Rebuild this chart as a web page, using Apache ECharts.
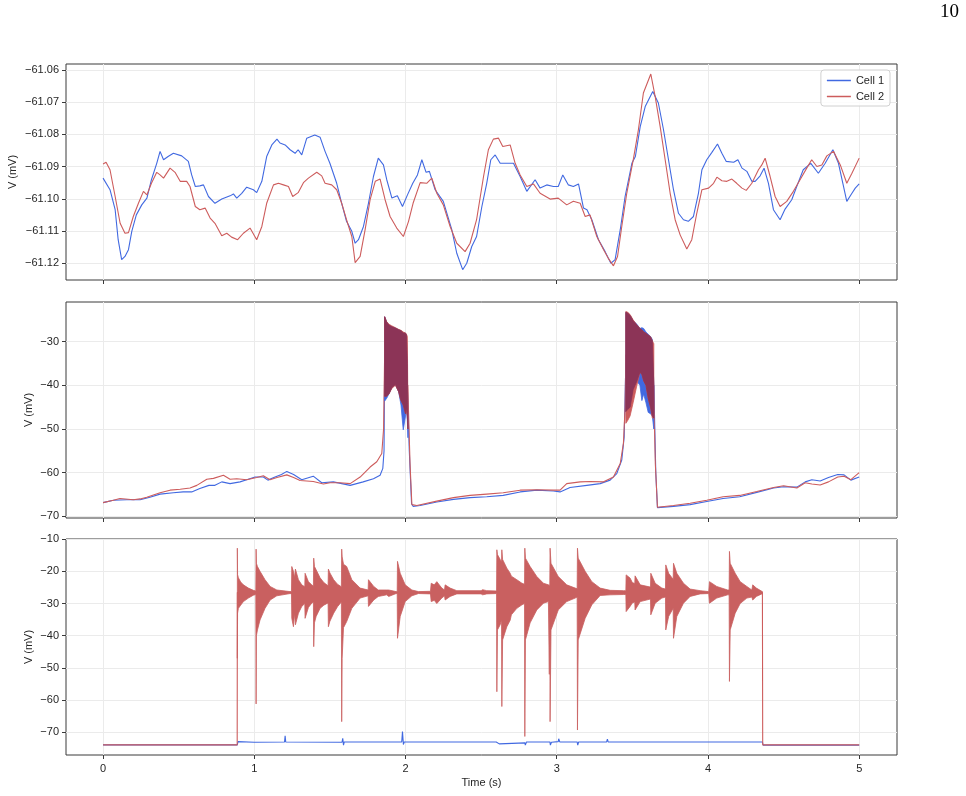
<!DOCTYPE html>
<html>
<head>
<meta charset="utf-8">
<script src="https://cdn.jsdelivr.net/npm/echarts@6/dist/echarts.min.js"></script>
<style>
  html, body { margin: 0; padding: 0; background: #fff; }
  #main { width: 966px; height: 796px; }
</style>
</head>
<body>
<div id="main"></div>
<script>
  // tick values
  const xTicks = [0, 1, 2, 3, 4, 5]
  const yTicks1 = [-61.12, -61.11, -61.10, -61.09, -61.08, -61.07, -61.06]
  const yTicks2 = [-70, -60, -50, -40, -30]
  const yTicks3 = [-70, -60, -50, -40, -30, -20, -10]

  // panel 1 : [time (s), V (mV)]
  const cell1Top = [[0,-61.0936],[0.046,-61.0972],[0.08,-61.1034],[0.10,-61.1127],[0.123,-61.1189],[0.145,-61.1179],[0.168,-61.1158],[0.19,-61.1101],[0.22,-61.1050],[0.256,-61.1019],[0.29,-61.0998],[0.32,-61.0941],[0.355,-61.0890],[0.377,-61.0853],[0.40,-61.0879],[0.43,-61.0869],[0.465,-61.0859],[0.52,-61.0867],[0.564,-61.0884],[0.586,-61.0926],[0.61,-61.0962],[0.64,-61.0960],[0.664,-61.0957],[0.697,-61.0993],[0.74,-61.1014],[0.785,-61.1001],[0.84,-61.0991],[0.862,-61.0985],[0.884,-61.0998],[0.917,-61.0983],[0.95,-61.0964],[0.994,-61.0972],[1.016,-61.0981],[1.05,-61.0946],[1.082,-61.0869],[1.116,-61.0833],[1.15,-61.0815],[1.17,-61.0827],[1.204,-61.0833],[1.237,-61.0848],[1.27,-61.0859],[1.29,-61.0848],[1.314,-61.0864],[1.347,-61.0812],[1.40,-61.0802],[1.435,-61.0809],[1.468,-61.0853],[1.50,-61.0890],[1.545,-61.0952],[1.578,-61.1014],[1.61,-61.1070],[1.645,-61.1101],[1.667,-61.1138],[1.689,-61.1127],[1.722,-61.1086],[1.755,-61.1014],[1.788,-61.0931],[1.82,-61.0874],[1.854,-61.0895],[1.876,-61.0941],[1.91,-61.0998],[1.946,-61.0991],[1.98,-61.1024],[2.013,-61.0988],[2.048,-61.0952],[2.079,-61.0926],[2.108,-61.0879],[2.136,-61.0918],[2.158,-61.0915],[2.196,-61.0972],[2.25,-61.1008],[2.306,-61.1096],[2.339,-61.1169],[2.378,-61.1220],[2.405,-61.1200],[2.438,-61.1148],[2.47,-61.1117],[2.505,-61.1024],[2.537,-61.0952],[2.564,-61.0879],[2.593,-61.0864],[2.626,-61.0890],[2.67,-61.0890],[2.714,-61.0890],[2.758,-61.0931],[2.802,-61.0977],[2.857,-61.0941],[2.89,-61.0967],[2.934,-61.0957],[2.978,-61.0962],[3.01,-61.0962],[3.04,-61.0926],[3.077,-61.0957],[3.11,-61.0962],[3.144,-61.0954],[3.177,-61.1029],[3.2,-61.1034],[3.232,-61.1065],[3.276,-61.1127],[3.32,-61.1164],[3.358,-61.1200],[3.386,-61.1189],[3.42,-61.1096],[3.452,-61.0993],[3.497,-61.0890],[3.52,-61.0869],[3.552,-61.0776],[3.585,-61.0714],[3.635,-61.0667],[3.672,-61.0703],[3.706,-61.0786],[3.739,-61.0879],[3.772,-61.0972],[3.805,-61.1045],[3.838,-61.1065],[3.87,-61.1070],[3.904,-61.1055],[3.937,-61.0983],[3.96,-61.0910],[3.992,-61.0879],[4.026,-61.0856],[4.063,-61.0830],[4.092,-61.0859],[4.12,-61.0884],[4.17,-61.0887],[4.198,-61.0879],[4.225,-61.0905],[4.257,-61.0915],[4.29,-61.0946],[4.312,-61.0946],[4.345,-61.0929],[4.371,-61.0905],[4.4,-61.0952],[4.433,-61.1034],[4.477,-61.1065],[4.51,-61.1032],[4.554,-61.1003],[4.587,-61.0962],[4.63,-61.0910],[4.68,-61.0890],[4.73,-61.0921],[4.775,-61.0890],[4.826,-61.0848],[4.863,-61.0890],[4.892,-61.0952],[4.918,-61.1008],[4.952,-61.0983],[4.974,-61.0967],[5.0,-61.0954]]
  const cell2Top = [[0,-61.0892],[0.02,-61.0887],[0.046,-61.0910],[0.08,-61.0993],[0.113,-61.1076],[0.145,-61.1107],[0.168,-61.1105],[0.2,-61.1055],[0.234,-61.1014],[0.267,-61.0977],[0.29,-61.0988],[0.32,-61.0952],[0.355,-61.0918],[0.377,-61.0926],[0.40,-61.0936],[0.443,-61.0905],[0.476,-61.0918],[0.51,-61.0946],[0.553,-61.0946],[0.575,-61.0962],[0.61,-61.1024],[0.64,-61.1034],[0.675,-61.1029],[0.708,-61.1060],[0.74,-61.1076],[0.785,-61.1115],[0.818,-61.1107],[0.85,-61.1119],[0.89,-61.1127],[0.928,-61.1107],[0.972,-61.1091],[1.016,-61.1127],[1.05,-61.1086],[1.082,-61.1014],[1.127,-61.0957],[1.16,-61.0952],[1.193,-61.0957],[1.226,-61.0962],[1.254,-61.0993],[1.29,-61.0981],[1.325,-61.0950],[1.358,-61.0936],[1.413,-61.0918],[1.446,-61.0929],[1.468,-61.0952],[1.512,-61.0957],[1.545,-61.0972],[1.578,-61.1014],[1.61,-61.1065],[1.645,-61.1117],[1.667,-61.1198],[1.70,-61.1179],[1.733,-61.1096],[1.766,-61.1003],[1.8,-61.0946],[1.832,-61.0939],[1.865,-61.1003],[1.898,-61.1055],[1.942,-61.1091],[1.986,-61.1117],[2.02,-61.1070],[2.05,-61.1014],[2.097,-61.0950],[2.14,-61.0952],[2.174,-61.0936],[2.207,-61.0983],[2.25,-61.1019],[2.295,-61.1086],[2.339,-61.1138],[2.394,-61.1164],[2.427,-61.1138],[2.47,-61.1065],[2.516,-61.0931],[2.548,-61.0848],[2.581,-61.0815],[2.615,-61.0812],[2.643,-61.0838],[2.692,-61.0833],[2.725,-61.0890],[2.758,-61.0926],[2.802,-61.0962],[2.846,-61.0954],[2.89,-61.0983],[2.956,-61.1001],[3.01,-61.0998],[3.066,-61.1019],[3.11,-61.1008],[3.155,-61.1014],[3.188,-61.1055],[3.22,-61.1050],[3.265,-61.1117],[3.31,-61.1158],[3.34,-61.1184],[3.375,-61.1208],[3.402,-61.1179],[3.43,-61.1086],[3.463,-61.0983],[3.508,-61.0874],[3.54,-61.0786],[3.573,-61.0672],[3.622,-61.0613],[3.651,-61.0683],[3.684,-61.0776],[3.717,-61.0879],[3.75,-61.0983],[3.783,-61.1065],[3.816,-61.1112],[3.86,-61.1156],[3.893,-61.1127],[3.926,-61.1045],[3.96,-61.0972],[4.004,-61.0967],[4.037,-61.0952],[4.059,-61.0933],[4.092,-61.0944],[4.125,-61.0946],[4.158,-61.0939],[4.19,-61.0952],[4.225,-61.0967],[4.253,-61.0974],[4.29,-61.0952],[4.334,-61.0910],[4.356,-61.0895],[4.378,-61.0874],[4.411,-61.0931],[4.444,-61.0993],[4.477,-61.1024],[4.521,-61.1008],[4.565,-61.0977],[4.609,-61.0941],[4.653,-61.0905],[4.686,-61.0879],[4.72,-61.0900],[4.753,-61.0895],[4.786,-61.0867],[4.83,-61.0853],[4.875,-61.0895],[4.918,-61.0952],[4.952,-61.0921],[5.0,-61.0874]]

  // panel 2 : slow traces
  const cell1Mid = [[0,-66.85],[0.068,-66.3],[0.157,-66.2],[0.245,-66.2],[0.31,-65.6],[0.377,-64.9],[0.465,-64.6],[0.53,-64.4],[0.586,-64.4],[0.64,-63.6],[0.70,-62.9],[0.74,-62.9],[0.785,-62.1],[0.84,-62.5],[0.906,-62.1],[0.96,-61.5],[1.005,-61.0],[1.06,-61.0],[1.09,-61.7],[1.137,-61.0],[1.18,-60.4],[1.215,-59.7],[1.26,-60.4],[1.314,-61.6],[1.39,-60.8],[1.446,-62.3],[1.523,-62.1],[1.634,-62.9],[1.72,-62.1],[1.788,-61.4],[1.832,-60.6],[1.85,-59.0],[1.858,-55.0],[1.862,-35.0],[2.01,-38.0],[2.025,-55.0],[2.04,-67.1],[2.05,-67.7],[2.097,-67.5],[2.207,-66.7],[2.317,-66.1],[2.427,-65.7],[2.537,-65.5],[2.646,-65.2],[2.758,-64.4],[2.868,-64.0],[2.978,-64.2],[3.022,-64.4],[3.088,-63.4],[3.199,-62.9],[3.287,-62.5],[3.353,-61.7],[3.397,-60.2],[3.43,-57.1],[3.446,-51.8],[3.457,-35.0],[3.642,-40.0],[3.655,-60.0],[3.666,-68.0],[3.772,-67.7],[3.882,-67.3],[3.992,-66.6],[4.1,-65.9],[4.21,-65.5],[4.323,-64.5],[4.434,-63.5],[4.5,-63.2],[4.588,-63.3],[4.643,-62.1],[4.687,-61.6],[4.742,-61.9],[4.797,-61.1],[4.858,-60.4],[4.9,-60.5],[4.945,-61.7],[5.0,-61.0]]
  const cell2Mid = [[0,-66.85],[0.068,-66.3],[0.112,-65.9],[0.20,-66.2],[0.245,-66.0],[0.289,-65.6],[0.377,-64.6],[0.443,-64.0],[0.51,-63.8],[0.575,-63.5],[0.62,-62.9],[0.686,-61.5],[0.73,-61.3],[0.796,-60.6],[0.84,-61.5],[0.884,-61.4],[0.95,-61.6],[1.016,-61.1],[1.06,-60.7],[1.104,-61.6],[1.15,-61.1],[1.215,-60.5],[1.26,-61.1],[1.303,-61.8],[1.39,-62.0],[1.457,-62.6],[1.501,-62.3],[1.567,-62.3],[1.634,-62.5],[1.70,-61.0],[1.766,-58.7],[1.81,-57.5],[1.843,-55.6],[1.855,-50.0],[1.862,-33.0],[2.015,-40.0],[2.03,-58.0],[2.042,-67.3],[2.05,-67.6],[2.075,-67.5],[2.207,-66.5],[2.317,-65.7],[2.427,-65.2],[2.537,-64.9],[2.646,-64.6],[2.758,-64.0],[2.868,-63.9],[2.978,-64.0],[3.022,-64.0],[3.066,-62.5],[3.155,-62.1],[3.221,-62.0],[3.31,-62.1],[3.375,-61.0],[3.42,-57.9],[3.441,-53.3],[3.452,-45.0],[3.457,-33.0],[3.64,-40.0],[3.652,-58.0],[3.666,-67.9],[3.772,-67.5],[3.882,-67.0],[3.992,-66.3],[4.1,-65.5],[4.21,-65.2],[4.323,-64.3],[4.434,-63.4],[4.5,-63.0],[4.588,-63.5],[4.643,-62.3],[4.687,-62.6],[4.742,-62.8],[4.797,-62.1],[4.858,-61.0],[4.9,-60.8],[4.945,-61.6],[5.0,-60.0]]

  // panel 2 : burst envelopes (time, upper, lower)
  const burst1T = [1.862, 1.875, 1.89, 1.91, 1.933, 1.955, 1.97, 1.985, 2.0, 2.006, 2.012, 2.016]
  const burst1Cell1Hi = [-24.3, -25.5, -26.2, -26.6, -26.9, -27.3, -27.5, -28.0, -28.1, -28.5, -35.0, -50.0]
  const burst1Cell1Lo = [-43.6, -43.0, -42.0, -40.5, -39.8, -41.5, -44.5, -50.2, -47.0, -45.0, -48.0, -52.0]
  const burst1Cell2Hi = [-24.3, -25.4, -26.0, -26.4, -26.8, -27.2, -27.4, -27.8, -28.0, -28.3, -28.8, -45.0]
  const burst1Cell2Lo = [-42.5, -42.5, -42.0, -40.7, -40.0, -41.5, -43.5, -44.5, -46.5, -46.0, -47.0, -50.0]
  const burst2T = [3.457, 3.47, 3.485, 3.505, 3.53, 3.55, 3.563, 3.575, 3.59, 3.605, 3.62, 3.632, 3.642]
  const burst2Cell1Hi = [-23.3, -23.5, -24.0, -25.2, -26.0, -27.0, -26.8, -27.0, -27.8, -28.3, -28.8, -29.5, -40.0]
  const burst2Cell1Lo = [-46.0, -45.5, -45.0, -41.0, -39.0, -40.0, -43.5, -42.0, -44.0, -46.2, -46.5, -47.0, -50.0]
  const burst2Cell2Hi = [-23.1, -23.3, -23.8, -25.0, -26.2, -27.0, -27.3, -27.8, -28.1, -28.5, -28.9, -29.8, -30.5]
  const burst2Cell2Lo = [-48.7, -48.0, -47.0, -44.0, -40.0, -37.0, -37.5, -39.0, -40.0, -43.0, -45.0, -47.5, -47.5]

  // panel 3
  const cell1Low = [[0,-73.9],[0.888,-73.9],[0.892,-72.9],[1.0,-73.1],[1.01,-72.8],[1.2,-73.0],[1.204,-71.1],[1.208,-73.0],[1.58,-73.1],[1.585,-71.9],[1.59,-74.0],[1.595,-73.0],[1.975,-73.0],[1.98,-69.8],[1.986,-73.8],[1.992,-73.0],[2.6,-73.0],[2.62,-73.6],[2.625,-73.0],[2.79,-73.3],[2.792,-74.0],[2.8,-73.0],[2.955,-73.0],[2.958,-74.0],[2.965,-73.1],[3.01,-72.9],[3.013,-72.0],[3.02,-73.0],[3.135,-73.0],[3.139,-74.0],[3.145,-73.0],[3.33,-73.0],[3.335,-72.1],[3.34,-73.0],[4.36,-73.0],[4.365,-74.0],[5.0,-74.0]]
  const cell2Low = [[0,-73.9],[0.887,-73.9],[0.888,-26.6],[4.36,-26.6],[4.362,-73.9],[5.0,-73.9]]
  // envelope of the fast oscillations of cell 2 : [time, upper, lower]
  const cell2LowEnv = [[0.888,-12.8,-47.0],[0.8895,-21.0,-33.0],[0.895,-22.0,-31.5],[0.91,-23.3,-30.5],[0.928,-24.2,-29.4],[0.961,-25.2,-28.3],[0.994,-25.9,-27.4],[1.010,-26.1,-27.2],[1.012,-13.1,-61.2],[1.014,-17.5,-40.0],[1.021,-18.5,-38.2],[1.038,-20.0,-35.1],[1.071,-22.6,-31.5],[1.105,-24.7,-28.9],[1.149,-25.8,-27.6],[1.237,-26.3,-26.9],[1.246,-26.2,-27.0],[1.248,-18.5,-34.6],[1.259,-20.0,-37.2],[1.266,-22.0,-33.0],[1.272,-19.3,-36.6],[1.292,-22.6,-33.0],[1.314,-24.2,-30.9],[1.334,-24.8,-30.0],[1.336,-20.6,-34.6],[1.358,-23.2,-31.2],[1.38,-24.2,-29.9],[1.391,-24.6,-29.5],[1.393,-15.9,-43.4],[1.398,-18.5,-36.0],[1.409,-19.5,-34.0],[1.435,-22.0,-31.5],[1.46,-23.5,-30.5],[1.488,-24.5,-29.8],[1.49,-19.3,-37.2],[1.50,-20.5,-35.5],[1.525,-22.6,-33.0],[1.55,-24.0,-31.0],[1.576,-24.8,-29.5],[1.578,-13.1,-66.7],[1.581,-15.5,-47.0],[1.59,-17.8,-37.5],[1.611,-18.5,-35.6],[1.645,-22.6,-31.5],[1.70,-25.2,-28.3],[1.753,-25.8,-27.6],[1.755,-22.6,-30.9],[1.79,-24.7,-28.9],[1.82,-25.8,-27.8],[1.876,-25.8,-27.3],[1.889,-25.8,-27.8],[1.938,-26.3,-26.9],[1.945,-26.3,-26.9],[1.947,-16.9,-40.8],[1.965,-20.6,-34.0],[1.998,-24.2,-29.4],[2.042,-25.8,-27.6],[2.086,-26.3,-26.9],[2.165,-26.2,-27.0],[2.17,-23.7,-29.4],[2.19,-24.2,-29.0],[2.207,-23.2,-30.0],[2.24,-25.2,-28.3],[2.258,-25.8,-27.6],[2.262,-24.2,-28.9],[2.295,-25.2,-27.8],[2.339,-26.0,-27.0],[2.50,-26.0,-27.0],[2.51,-25.7,-27.3],[2.537,-26.0,-27.0],[2.602,-26.1,-26.9],[2.604,-13.3,-57.4],[2.608,-14.8,-38.2],[2.626,-16.3,-36.6],[2.635,-17.0,-35.0],[2.637,-13.3,-62.0],[2.642,-16.3,-41.3],[2.67,-19.0,-37.2],[2.692,-20.6,-35.2],[2.70,-21.5,-33.5],[2.736,-22.6,-31.5],[2.77,-23.7,-30.4],[2.787,-24.0,-30.0],[2.789,-12.8,-71.3],[2.793,-15.9,-41.3],[2.824,-18.5,-36.0],[2.868,-21.6,-32.0],[2.912,-23.7,-29.9],[2.945,-24.2,-29.4],[2.951,-24.3,-52.0],[2.954,-24.3,-29.3],[2.956,-12.8,-66.7],[2.962,-17.5,-38.2],[3.01,-21.6,-32.0],[3.066,-24.2,-29.4],[3.122,-25.2,-28.3],[3.135,-25.4,-28.0],[3.137,-12.8,-69.3],[3.142,-15.9,-41.3],[3.188,-20.0,-34.6],[3.232,-23.2,-30.4],[3.287,-25.2,-27.5],[3.353,-25.9,-27.3],[3.441,-26.0,-27.2],[3.457,-26.0,-27.2],[3.459,-21.1,-32.5],[3.485,-22.1,-30.9],[3.50,-23.5,-29.8],[3.516,-23.8,-29.5],[3.518,-21.4,-32.0],[3.552,-24.2,-29.4],[3.62,-24.9,-28.6],[3.622,-20.6,-33.5],[3.651,-23.7,-29.9],[3.695,-25.2,-28.3],[3.719,-25.5,-28.0],[3.721,-18.0,-38.2],[3.74,-20.6,-34.0],[3.77,-22.5,-31.5],[3.772,-17.5,-40.8],[3.794,-20.6,-34.0],[3.838,-23.7,-29.9],[3.882,-25.5,-27.8],[3.948,-26.0,-27.0],[4.005,-26.3,-26.9],[4.01,-23.2,-29.9],[4.058,-24.7,-28.3],[4.13,-25.8,-27.3],[4.14,-25.8,-27.3],[4.142,-13.8,-54.2],[4.147,-17.5,-38.2],[4.18,-20.6,-33.0],[4.213,-23.2,-30.0],[4.257,-24.7,-28.3],[4.29,-25.8,-28.0],[4.296,-24.2,-28.9],[4.32,-25.2,-27.8],[4.356,-26.2,-27.0],[4.36,-26.3,-26.9]]

  const BLUE = '#4169e1'
  const RED = '#cd5c5c'
  const MAROON = '#8c3457'
  const FONT = 'Liberation Sans, Arial, sans-serif'

  function minusFmt (digits) {
    return function (v) {
      let s = Math.abs(v).toFixed(digits)
      return (v < -1e-9 ? '\u2212' : '') + s
    }
  }

  // polygon band between an upper and a lower envelope
  function band (t, hi, lo) {
    return { t: t, hi: hi, lo: lo }
  }
  function overlap (a, b) {
    let hi = [], lo = []
    for (let i = 0; i < a.t.length; i++) {
      let h = Math.min(a.hi[i], b.hi[i])
      let l = Math.max(a.lo[i], b.lo[i])
      if (l > h) l = h
      hi.push(h)
      lo.push(l)
    }
    return band(a.t, hi, lo)
  }
  function bandSeries (name, idx, bands, color, z) {
    return {
      name: name,
      type: 'custom',
      xAxisIndex: idx,
      yAxisIndex: idx,
      z: z,
      silent: true,
      encode: { x: 0, y: 1 },
      data: bands.map(b => [b.t[0], b.hi[0]]),
      renderItem: function (params, api) {
        let b = bands[params.dataIndex]
        let pts = []
        for (let i = 0; i < b.t.length; i++) pts.push(api.coord([b.t[i], b.hi[i]]))
        for (let i = b.t.length - 1; i >= 0; i--) pts.push(api.coord([b.t[i], b.lo[i]]))
        return {
          type: 'polygon',
          shape: { points: pts },
          style: { fill: color, stroke: color, lineWidth: 0.8 }
        }
      }
    }
  }

  const b1c1 = band(burst1T, burst1Cell1Hi, burst1Cell1Lo)
  const b1c2 = band(burst1T, burst1Cell2Hi, burst1Cell2Lo)
  const b2c1 = band(burst2T, burst2Cell1Hi, burst2Cell1Lo)
  const b2c2 = band(burst2T, burst2Cell2Hi, burst2Cell2Lo)
  const lowEnv = band(cell2LowEnv.map(r => r[0]), cell2LowEnv.map(r => r[1]), cell2LowEnv.map(r => r[2]))

  const gridTops = [64, 302, 539]
  const yRanges = [[-61.1252, -61.0582], [-70.37, -20.93], [-77.06, -9.95]]
  const yTickSets = [yTicks1, yTicks2, yTicks3]
  const nameGaps = [48, 32, 32]

  let grid = [], xAxis = [], yAxis = []
  for (let i = 0; i < 3; i++) {
    grid.push({ left: 66, width: 831, top: gridTops[i], height: 216, show: true,
      outerBoundsMode: 'none', borderColor: '#3a3a3a', borderWidth: 1 })
    xAxis.push({
      type: 'value', gridIndex: i, min: -0.245, max: 5.25,
      axisLine: { show: false, onZero: false },
      axisTick: { show: true, length: 4, customValues: xTicks, lineStyle: { color: '#3a3a3a' } },
      axisLabel: { show: i === 2, customValues: xTicks, margin: 8, fontFamily: FONT, fontSize: 11, color: '#262626',
        formatter: v => String(Math.round(v)) },
      splitLine: { show: true, lineStyle: { color: '#ebebeb', width: 1 } },
      name: i === 2 ? 'Time (s)' : '', nameLocation: 'middle', nameGap: 22, nameMoveOverlap: false,
      nameTextStyle: { fontFamily: FONT, fontSize: 11, color: '#262626' }
    })
    yAxis.push({
      type: 'value', gridIndex: i, min: yRanges[i][0], max: yRanges[i][1],
      axisLine: { show: false, onZero: false },
      axisTick: { show: true, length: 4, customValues: yTickSets[i], lineStyle: { color: '#3a3a3a' } },
      axisLabel: { customValues: yTickSets[i], margin: 7, fontFamily: FONT, fontSize: 11, color: '#262626',
        formatter: minusFmt(i === 0 ? 2 : 0) },
      splitLine: { show: true, lineStyle: { color: '#ebebeb', width: 1 } },
      name: 'V (mV)', nameLocation: 'middle', nameGap: nameGaps[i], nameMoveOverlap: false,
      nameTextStyle: { fontFamily: FONT, fontSize: 11, color: '#262626' }
    })
  }

  function lineSeries (name, idx, data, color, z) {
    return {
      name: name, type: 'line', xAxisIndex: idx, yAxisIndex: idx, data: data,
      showSymbol: false, symbol: 'none', z: z, silent: true,
      lineStyle: { color: color, width: 1.1 }, itemStyle: { color: color }
    }
  }

  let chart = echarts.init(document.getElementById('main'))
  let option = {
    animation: false,
    backgroundColor: '#fff',
    grid: grid,
    xAxis: xAxis,
    yAxis: yAxis,
    legend: {
      data: ['Cell 1', 'Cell 2'],
      orient: 'vertical', right: 76, top: 70,
      icon: 'rect', itemWidth: 24, itemHeight: 1.5, itemGap: 5,
      padding: [5, 6, 4, 6],
      borderColor: '#d0d0d0', borderWidth: 1, borderRadius: 3,
      backgroundColor: 'rgba(255,255,255,0.85)',
      textStyle: { fontFamily: FONT, fontSize: 11, color: '#262626' }
    },
    graphic: [{
      type: 'text', left: 940, top: 3,
      style: { text: '10', font: '19px "Liberation Serif", serif', fill: '#000' }
    }],
    series: [
      lineSeries('Cell 1', 0, cell1Top, BLUE, 2),
      lineSeries('Cell 2', 0, cell2Top, RED, 3),
      lineSeries('Cell 1', 1, cell1Mid, BLUE, 2),
      lineSeries('Cell 2', 1, cell2Mid, RED, 3),
      bandSeries('Cell 1', 1, [b1c1, b2c1], BLUE, 4),
      bandSeries('Cell 2', 1, [b1c2, b2c2], RED, 5),
      bandSeries('Cell 2', 1, [overlap(b1c1, b1c2), overlap(b2c1, b2c2)], MAROON, 6),
      lineSeries('Cell 1', 2, cell1Low, BLUE, 2),
      lineSeries('Cell 2', 2, cell2Low, RED, 3),
      bandSeries('Cell 2', 2, [lowEnv], '#c96060', 4)
    ]
  }
  chart.setOption(option)
</script>
</body>
</html>
